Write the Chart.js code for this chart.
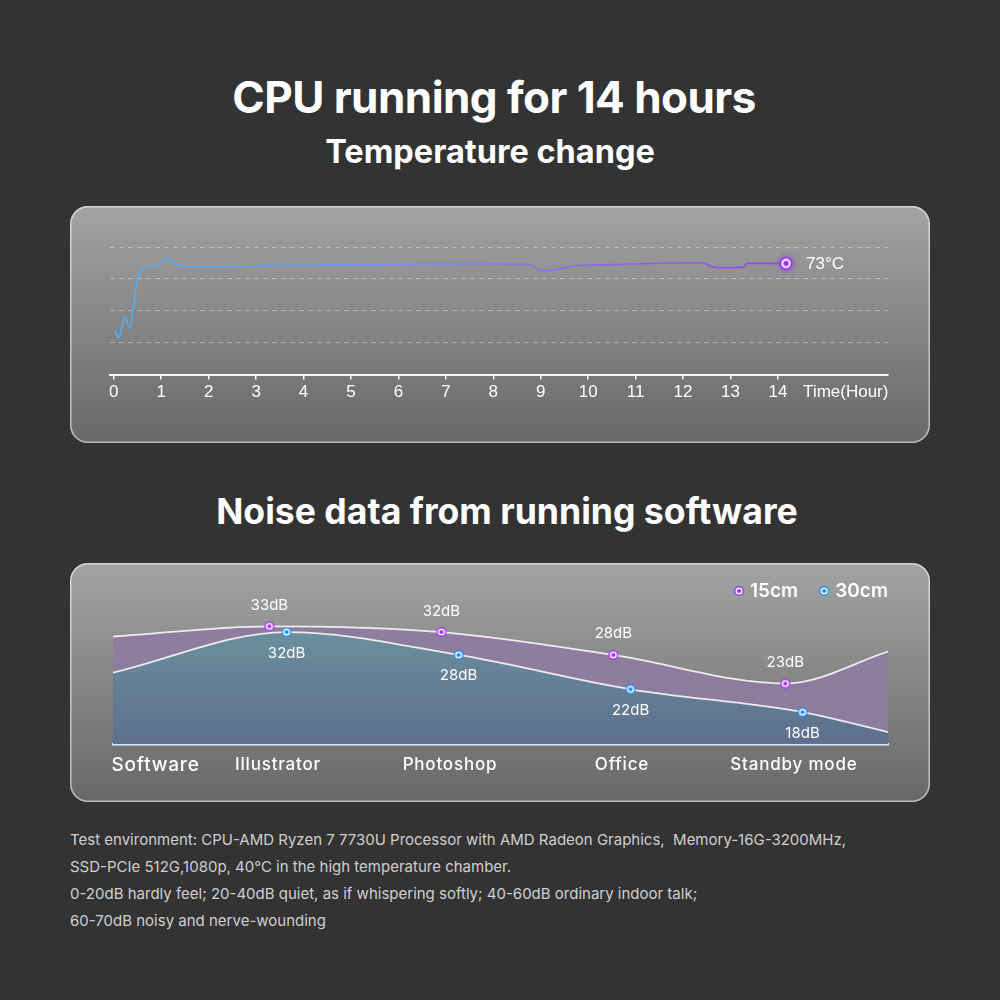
<!DOCTYPE html>
<html>
<head>
<meta charset="utf-8">
<script src="https://cdn.jsdelivr.net/npm/chart.js@4.4.0/dist/chart.umd.min.js"></script>
<style>
html, body { margin: 0; padding: 0; }
body { width: 1000px; height: 1000px; background: #333333; position: relative; overflow: hidden; font-family: Inter, "Noto Sans", sans-serif; color: #fff; }
.title { position: absolute; left: 0; width: 1000px; text-align: center; font-weight: 700; white-space: nowrap; }
#t1 { top: 70px; font-size: 44px; letter-spacing: -0.55px; margin-left: -6px; }
#t2 { top: 132px; font-size: 32.5px; margin-left: -10px; }
#t3 { top: 490px; font-size: 35.6px; margin-left: 7px; }
.panel { position: absolute; left: 70px; width: 860px; border-radius: 18px; background: linear-gradient(#a3a3a3, #686868); box-shadow: inset 0 0 0 1.5px rgba(255,255,255,0.55); }
.panel canvas { position: absolute; left: 0; top: 0; }
#p1 { top: 206px; height: 237px; }
#p2 { top: 563px; height: 239px; }
.note { position: absolute; left: 70px; top: 826px; font-size: 15px; line-height: 27px; color: #cfcfcf; white-space: nowrap; }
</style>
</head>
<body>
<div class="title" id="t1">CPU running for 14 hours</div>
<div class="title" id="t2">Temperature change</div>
<div class="panel" id="p1"><canvas id="tempChartCanvas" width="860" height="237"></canvas></div>
<div class="title" id="t3">Noise data from running software</div>
<div class="panel" id="p2"><canvas id="noiseChartCanvas" width="860" height="239"></canvas></div>
<div class="note">
Test environment: CPU-AMD Ryzen 7 7730U Processor with AMD Radeon Graphics,&nbsp; Memory-16G-3200MHz,<br>
SSD-PCIe 512G,1080p, 40°C in the high temperature chamber.<br>
0-20dB hardly feel; 20-40dB quiet, as if whispering softly; 40-60dB ordinary indoor talk;<br>
60-70dB noisy and nerve-wounding
</div>
<script>
// ---- temperature chart data ----
const hourTicks = [0, 1, 2, 3, 4, 5, 6, 7, 8, 9, 10, 11, 12, 13, 14];
const hourAxisLabel = 'Time(Hour)';
const tempGridTicks = [21, 36, 51, 66, 81];
const tempHours = [0.02, 0.105, 0.23, 0.34, 0.42, 0.485, 0.65, 0.80, 0.91, 1.12, 1.33, 1.45, 2, 4, 6, 8.1, 8.75, 9.02, 9.26, 9.76, 10.25, 12.36, 12.71, 13.26, 13.35, 14.17];
const tempValues = [41.6, 38.3, 48.2, 43.0, 53.8, 64.6, 71.2, 72.1, 72.1, 75.4, 72.6, 72.1, 72.1, 72.4, 72.8, 73.0, 72.9, 69.9, 70.2, 72.2, 72.6, 73.6, 71.3, 71.3, 73.3, 73.3];

// ---- noise chart data ----
const noiseCategories = ['Software', 'Illustrator', 'Photoshop', 'Office', 'Standby mode'];
const noiseCategoryPos = [0.288, 1, 2, 3, 4];
const near15X = [0.04, 0.95, 1.95, 2.95, 3.95, 4.55];
const near15Values = [31.2, 33, 32, 28, 23, 28.6];
const far30X = [0.04, 1.05, 2.05, 3.05, 4.05, 4.55];
const far30Values = [24.9, 32, 28, 22, 18, 14.5];

const purple = '#a032f5';
const blue = '#1a8cff';

function makeMarker(color, r, glow) {
    const pad = glow ? 6 : 1;
    const size = Math.ceil(r + pad) * 2;
    const c = document.createElement('canvas');
    c.width = size;
    c.height = size;
    const g = c.getContext('2d');
    const m = size / 2;
    g.fillStyle = color;
    if (glow) {
        g.shadowColor = color;
        g.shadowBlur = glow;
    }
    g.beginPath(); g.arc(m, m, r, 0, Math.PI * 2); g.fill();
    g.shadowBlur = 0;
    g.fillStyle = '#fff';
    g.beginPath(); g.arc(m, m, r * 0.72, 0, Math.PI * 2); g.fill();
    g.fillStyle = color;
    g.beginPath(); g.arc(m, m, r * 0.42, 0, Math.PI * 2); g.fill();
    return c;
}

const endMarker = makeMarker('#9a35f5', 6.5, 6);
const purpleMarker = makeMarker(purple, 5);
const blueMarker = makeMarker(blue, 5);

// ---- temperature chart ----
const tempChartCanvas = document.getElementById('tempChartCanvas');
const lastIdx = tempValues.length - 1;

const tempChart = new Chart(tempChartCanvas, {
    type: 'line',
    data: {
        datasets: [{
            data: tempHours.map((h, i) => ({ x: h, y: tempValues[i] })),
            borderWidth: 1.6,
            cubicInterpolationMode: 'monotone',
            borderColor(ctx) {
                const chart = ctx.chart;
                const area = chart.chartArea;
                if (!area) return '#5aa9f0';
                const endX = chart.scales.x.getPixelForValue(tempHours[lastIdx]);
                const grad = chart.ctx.createLinearGradient(area.left, 0, endX, 0);
                grad.addColorStop(0, '#4fb1f3');
                grad.addColorStop(0.5, '#7b86ec');
                grad.addColorStop(1, '#9c42f4');
                return grad;
            },
            pointRadius: (ctx) => ctx.dataIndex === lastIdx ? 8 : 0,
            pointHoverRadius: 0,
            pointStyle: endMarker,
            fill: false
        }]
    },
    options: {
        responsive: false,
        animation: false,
        layout: { padding: { left: 40, right: 42, top: 41, bottom: 37 } },
        plugins: { legend: { display: false }, tooltip: { enabled: false } },
        scales: {
            x: {
                type: 'linear',
                min: -0.08,
                max: 16.32,
                afterBuildTicks(axis) {
                    axis.ticks = hourTicks.map(v => ({ value: v })).concat([{ value: 15.43 }]);
                },
                ticks: {
                    autoSkip: false,
                    maxRotation: 0,
                    color: '#fff',
                    padding: 3,
                    font: { family: '"Liberation Sans", Arial', size: 17 },
                    callback: (v) => v > 14 ? hourAxisLabel : v
                },
                grid: {
                    drawOnChartArea: false,
                    tickLength: 5,
                    lineWidth: 1.5,
                    color: (ctx) => ctx.tick && ctx.tick.value > 14 ? 'rgba(0,0,0,0)' : '#fff'
                },
                border: { color: 'rgba(255,255,255,0.95)', width: 2 }
            },
            y: {
                min: 21,
                max: 81,
                afterBuildTicks(axis) {
                    axis.ticks = tempGridTicks.map(v => ({ value: v }));
                },
                ticks: { display: false },
                grid: {
                    drawTicks: false,
                    lineWidth: 1,
                    color: (ctx) => ctx.tick && ctx.tick.value === tempGridTicks[0] ? 'rgba(0,0,0,0)' : 'rgba(255,255,255,0.35)'
                },
                border: { display: false, dash: [5, 4] }
            }
        }
    },
    plugins: [{
        id: 'endLabel',
        afterDatasetsDraw(chart) {
            const pt = chart.getDatasetMeta(0).data[lastIdx];
            const ctx = chart.ctx;
            ctx.save();
            ctx.font = '17px "Liberation Sans", Arial';
            ctx.fillStyle = '#fff';
            ctx.textAlign = 'left';
            ctx.textBaseline = 'middle';
            ctx.fillText(Math.round(tempValues[lastIdx]) + '°C', pt.x + 20, pt.y + 1);
            ctx.restore();
        }
    }]
});

// ---- noise chart ----
const noiseChartCanvas = document.getElementById('noiseChartCanvas');

const noiseChart = new Chart(noiseChartCanvas, {
    type: 'line',
    data: {
        datasets: [{
            label: '15cm',
            data: near15X.map((x, i) => ({ x: x, y: near15Values[i] })),
            borderColor: 'rgba(255,255,255,0.85)',
            borderWidth: 1.8,
            cubicInterpolationMode: 'monotone',
            pointStyle: purpleMarker,
            pointRadius: (ctx) => ctx.dataIndex === 0 || ctx.dataIndex === near15X.length - 1 ? 0 : 5,
            fill: '+1',
            backgroundColor: 'rgba(143,124,160,0.93)'
        }, {
            label: '30cm',
            data: far30X.map((x, i) => ({ x: x, y: far30Values[i] })),
            borderColor: 'rgba(255,255,255,0.85)',
            borderWidth: 1.8,
            cubicInterpolationMode: 'monotone',
            pointStyle: blueMarker,
            pointRadius: (ctx) => ctx.dataIndex === 0 || ctx.dataIndex === far30X.length - 1 ? 0 : 5,
            fill: 'start',
            backgroundColor(ctx) {
                const area = ctx.chart.chartArea;
                if (!area) return '#66849a';
                const grad = ctx.chart.ctx.createLinearGradient(0, area.top, 0, area.bottom);
                grad.addColorStop(0, 'rgba(110,152,162,0.96)');
                grad.addColorStop(1, 'rgba(92,110,142,0.96)');
                return grad;
            }
        }]
    },
    options: {
        responsive: false,
        animation: false,
        layout: { padding: { left: 43, right: 42, top: 37, bottom: 15 } },
        plugins: {
            legend: { display: false },
            tooltip: { enabled: false },
            filler: { drawTime: 'beforeDatasetsDraw' }
        },
        scales: {
            x: {
                type: 'linear',
                min: 0.0407,
                max: 4.547,
                afterBuildTicks(axis) {
                    axis.ticks = noiseCategoryPos.map(v => ({ value: v }));
                },
                ticks: {
                    autoSkip: false,
                    maxRotation: 0,
                    color: '#fff',
                    padding: 10,
                    font: (ctx) => ctx.index === 0
                        ? { family: 'Inter', size: 19, weight: '500' }
                        : { family: 'Inter', size: 17, weight: '500' },
                    callback: (v, i) => noiseCategories[i]
                },
                grid: { display: false, drawTicks: false },
                border: { color: '#d6ebff', width: 2.5 }
            },
            y: {
                display: false,
                min: 12.4,
                max: 37.6
            }
        }
    },
    plugins: [{
        id: 'tickSpacing',
        beforeDraw(chart) {
            chart.ctx.letterSpacing = '0.8px';
        },
        beforeDatasetsDraw(chart) {
            chart.ctx.letterSpacing = '0px';
        }
    }, {
        id: 'dbLabels',
        afterDatasetsDraw(chart) {
            const ctx = chart.ctx;
            ctx.save();
            ctx.font = '15px Inter';
            ctx.fillStyle = '#fff';
            ctx.textAlign = 'center';
            ctx.textBaseline = 'middle';
            chart.data.datasets.forEach((ds, di) => {
                const pts = chart.getDatasetMeta(di).data;
                pts.forEach((pt, i) => {
                    if (i === 0 || i === pts.length - 1) return;
                    const dy = di === 0 ? -21 : 21;
                    ctx.fillText(ds.data[i].y + 'dB', pt.x, pt.y + dy);
                });
            });
            ctx.restore();
        }
    }, {
        id: 'noiseLegend',
        afterDraw(chart) {
            const ctx = chart.ctx;
            const markers = [purpleMarker, blueMarker];
            ctx.save();
            ctx.font = '600 19px Inter';
            ctx.fillStyle = '#fff';
            ctx.textAlign = 'left';
            ctx.textBaseline = 'middle';
            let right = chart.chartArea.right;
            const y = 28;
            for (let i = chart.data.datasets.length - 1; i >= 0; i--) {
                const text = chart.data.datasets[i].label;
                const w = ctx.measureText(text).width;
                const textX = right - w;
                ctx.fillText(text, textX, y);
                const img = markers[i];
                ctx.drawImage(img, textX - 11 - img.width / 2, y - img.height / 2);
                right = textX - 11 - 26;
            }
            ctx.restore();
        }
    }]
});
</script>
</body>
</html>
